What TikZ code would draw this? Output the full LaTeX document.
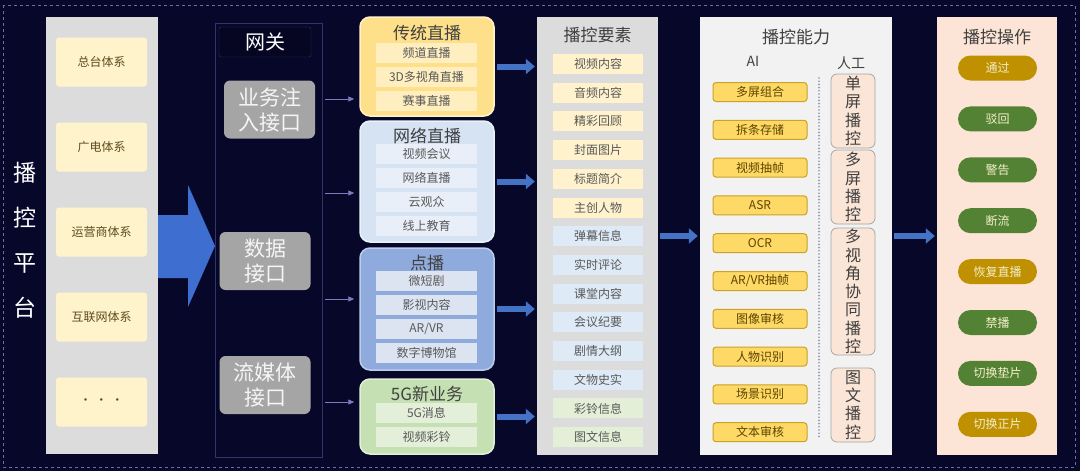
\documentclass[tikz,border=0pt]{standalone}
\usepackage{fontspec}
\setmainfont{Noto Sans CJK SC}
\usetikzlibrary{arrows.meta, positioning, calc}
\definecolor{navy}{HTML}{07072A}
\definecolor{framecol}{HTML}{6E6EA0}
\definecolor{ltgray}{HTML}{DCDCDC}
\definecolor{cream}{HTML}{FFF3CC}
\definecolor{olive}{HTML}{5E4B1E}
\definecolor{bigblue}{HTML}{3E6FD0}
\definecolor{arrblue}{HTML}{4472C4}
\definecolor{gwline}{HTML}{34346C}
\definecolor{gwgray}{HTML}{A5A5A5}
\definecolor{thinblue}{HTML}{7B7BC0}
\definecolor{yelgrp}{HTML}{FFE08A}
\definecolor{yelsub}{HTML}{FFEFC0}
\definecolor{bluegrp}{HTML}{D5E3F3}
\definecolor{bluesub}{HTML}{E9EFF8}
\definecolor{midgrp}{HTML}{8FAADC}
\definecolor{midsub}{HTML}{DDE4F1}
\definecolor{greengrp}{HTML}{C5E0B3}
\definecolor{greensub}{HTML}{E3EFD9}
\definecolor{dkgray}{HTML}{404040}
\definecolor{txtgray}{HTML}{595959}
\definecolor{elyel}{HTML}{FFF2CC}
\definecolor{elblue}{HTML}{DEEAF6}
\definecolor{elgreen}{HTML}{E4EFD8}
\definecolor{capbg}{HTML}{F2F2F2}
\definecolor{gold}{HTML}{FFD966}
\definecolor{goldline}{HTML}{C9A227}
\definecolor{aitext}{HTML}{5C4400}
\definecolor{peach}{HTML}{FBE5D6}
\definecolor{opbg}{HTML}{FCE4D6}
\definecolor{opgold}{HTML}{BF9000}
\definecolor{opgreen}{HTML}{548235}
\definecolor{optext}{HTML}{F3EFC8}
\definecolor{dotline}{HTML}{7F8FB0}

\begin{document}
\begin{tikzpicture}[x=1pt, y=-1pt,
  panel/.style={inner sep=0pt, minimum height=438pt},
  paneltitle/.style={text=dkgray, font=\fontsize{17}{20}\selectfont},
  srcitem/.style={fill=cream, rounded corners=3pt, minimum width=91pt, minimum height=49pt,
    inner sep=0pt, text=olive, font=\fontsize{12}{14}\selectfont},
  gwbox/.style={fill=gwgray, rounded corners=6pt, minimum width=91pt, minimum height=58pt,
    inner sep=0pt, align=center, text=white!92!gray, font=\fontsize{21}{25}\selectfont},
  grp/.style={rounded corners=10pt, minimum width=134pt, inner sep=0pt, line width=1.5pt},
  grptitle/.style={text=dkgray, font=\fontsize{17}{20}\selectfont},
  subitem/.style={minimum width=101pt, minimum height=20pt, inner sep=0pt,
    text=txtgray, font=\fontsize{12}{14}\selectfont},
  elemitem/.style={minimum width=90pt, minimum height=20pt, inner sep=0pt,
    text=txtgray, font=\fontsize{12}{14}\selectfont},
  aiitem/.style={fill=gold, draw=goldline, line width=1pt, rounded corners=3pt,
    minimum width=94pt, minimum height=19pt, inner sep=0pt, text=aitext,
    font=\fontsize{12}{14}\selectfont},
  subhead/.style={text=dkgray, font=\fontsize{14}{16}\selectfont},
  manbox/.style={fill=peach, draw=gray!70, line width=0.8pt, rounded corners=6pt,
    minimum width=44pt, inner sep=0pt, align=center, text=dkgray,
    font=\fontsize{16}{18.3}\selectfont},
  opbtn/.style={rounded corners=12.5pt, minimum width=79pt, minimum height=25pt,
    inner sep=0pt, text=optext, font=\fontsize{12}{14}\selectfont},
  fatarrow/.style={draw=arrblue, line width=6pt, -{Triangle[length=9pt, width=15pt]},
    shorten <=2pt, shorten >=2pt},
  thinarrow/.style={draw=thinblue, line width=0.8pt, -{Triangle[length=6pt, width=5pt]},
    shorten >=5pt}]

% Background
\fill[navy] (0,0) rectangle (1080,471);
\draw[framecol, dashed, line width=0.8pt] (3,5) rectangle (1075,467);

% Platform label
\node[text=white, font=\fontsize{23}{45}\selectfont, align=center] (plat) at (25,240)
  {播\\控\\平\\台};

% Source systems
\node[panel, fill=ltgray, minimum width=112pt, minimum height=437pt] (src) at (102,235.5) {};
\foreach \t [count=\i] in {总台体系,广电体系,运营商体系,互联网体系,{·\,\,·\,\,·}}
  \node[srcitem] (src\i) at (101.5,{62+85*(\i-1)}) {\t};

% Big arrow into gateway
\fill[bigblue] (158,215) -- (188,215) -- (188,185) -- (215,246) -- (188,307)
  -- (188,278) -- (158,278) -- cycle;

% Gateway
\node[draw=gwline, line width=1pt, minimum width=107pt, minimum height=434pt, inner sep=0pt]
  (gw) at (268.5,240) {};
\node[draw=gwline, fill=navy!80!black, rounded corners=2pt, minimum width=92pt,
  minimum height=30pt, inner sep=0pt, text=white, font=\fontsize{20}{22}\selectfont]
  (gwhead) at (265,42) {网关};
\node[gwbox] (gw1) at (269.5,109.5) {业务注\\入接口};
\node[gwbox] (gw2) at (265,261) {数据\\接口};
\node[gwbox] (gw3) at (265,385) {流媒体\\接口};

% Service groups
\node[grp, fill=yelgrp, draw=yelgrp!45!white, minimum height=99pt] (col1) at (427,66.5) {};
\node[grp, fill=bluegrp, draw=bluegrp!50!white, minimum height=121pt] (col2) at (427,181.5) {};
\node[grp, fill=midgrp, draw=midgrp!60!white, minimum height=122pt] (col3) at (427,309) {};
\node[grp, fill=greengrp, draw=greengrp!50!white, minimum height=75pt] (col4) at (427,416.5) {};

\node[grptitle] (t1) at (427,33) {传统直播};
\node[grptitle] (t2) at (427,136) {网络直播};
\node[grptitle] (t3) at (427,263) {点播};
\node[grptitle] (t4) at (427,394) {5G新业务};

\foreach \t [count=\i] in {频道直播,3D多视角直播,赛事直播}
  \node[subitem, fill=yelsub] (c1s\i) at (426.5,{52.5+24*(\i-1)}) {\t};
\foreach \t [count=\i] in {视频会议,网络直播,云观众,线上教育}
  \node[subitem, fill=bluesub] (c2s\i) at (426.5,{154+24*(\i-1)}) {\t};
\foreach \t [count=\i] in {微短剧,影视内容,AR/VR,数字博物馆}
  \node[subitem, fill=midsub] (c3s\i) at (426.5,{280.5+24*(\i-1)}) {\t};
\foreach \t [count=\i] in {5G消息,视频彩铃}
  \node[subitem, fill=greensub] (c4s\i) at (426.5,{413+24*(\i-1)}) {\t};

% Gateway to groups
\coordinate (in1) at (325,99);
\coordinate (in2) at (325,193);
\coordinate (in3) at (325,299);
\coordinate (in4) at (325,402);
\foreach \i in {1,...,4}
  \draw[thinarrow] (in\i) -- (in\i -| col\i.west);

% Elements
\node[panel, fill=ltgray, minimum width=121pt] (elem) at (597.5,236) {};
\node[paneltitle] (elemtitle) at (597.5,35) {播控要素};
\foreach \t/\c [count=\i] in {视频内容/elyel,音频内容/elyel,精彩回顾/elyel,封面图片/elyel,
    标题简介/elyel,主创人物/elyel,弹幕信息/elblue,实时评论/elblue,课堂内容/elblue,
    会议纪要/elblue,剧情大纲/elblue,文物史实/elblue,彩铃信息/elgreen,图文信息/elgreen}
  \node[elemitem, fill=\c] (el\i) at (598,{64+28.7*(\i-1)}) {\t};

\foreach \i in {1,...,4}
  \draw[fatarrow] (col\i.east) -- (col\i.east -| elem.west);

% Capabilities
\node[panel, fill=capbg, minimum width=192pt] (cap) at (796,236) {};
\node[paneltitle] (captitle) at (796,37) {播控能力};
\node[subhead] (ailabel) at (753,61) {AI};
\node[subhead] (manlabel) at (851,63) {人工};
\foreach \t [count=\i] in {多屏组合,拆条存储,视频抽帧,ASR,OCR,AR/VR抽帧,图像审核,人物识别,
    场景识别,文本审核}
  \node[aiitem] (ai\i) at (760,{92+37.8*(\i-1)}) {\t};

\coordinate (dtop) at (819,78);
\coordinate (dbot) at (819,438);
\draw[dotline, line width=1.8pt, line cap=round, dash pattern=on 0pt off 3.2pt] (dtop) -- (dbot);

\node[manbox, minimum height=74pt] (man1) at (853,111) {单\\屏\\播\\控};
\node[manbox, minimum height=74pt] (man2) at (853,187) {多\\屏\\播\\控};
\node[manbox, minimum height=127pt] (man3) at (853,291.5) {多\\视\\角\\协\\同\\播\\控};
\node[manbox, minimum height=74pt] (man4) at (853,405) {图\\文\\播\\控};

% Operations
\node[panel, fill=opbg, minimum width=120pt] (ops) at (997,236) {};
\node[paneltitle] (opstitle) at (997,37) {播控操作};
\foreach \t/\c [count=\i] in {通过/opgold,驳回/opgreen,警告/opgreen,断流/opgreen,
    恢复直播/opgold,禁播/opgreen,切换垫片/opgreen,切换正片/opgold}
  \node[opbtn, fill=\c] (op\i) at (997.5,{68+50.9*(\i-1)}) {\t};

\draw[fatarrow] (elem.east) -- (cap.west);
\draw[fatarrow] (cap.east) -- (ops.west);

\end{tikzpicture}
\end{document}
